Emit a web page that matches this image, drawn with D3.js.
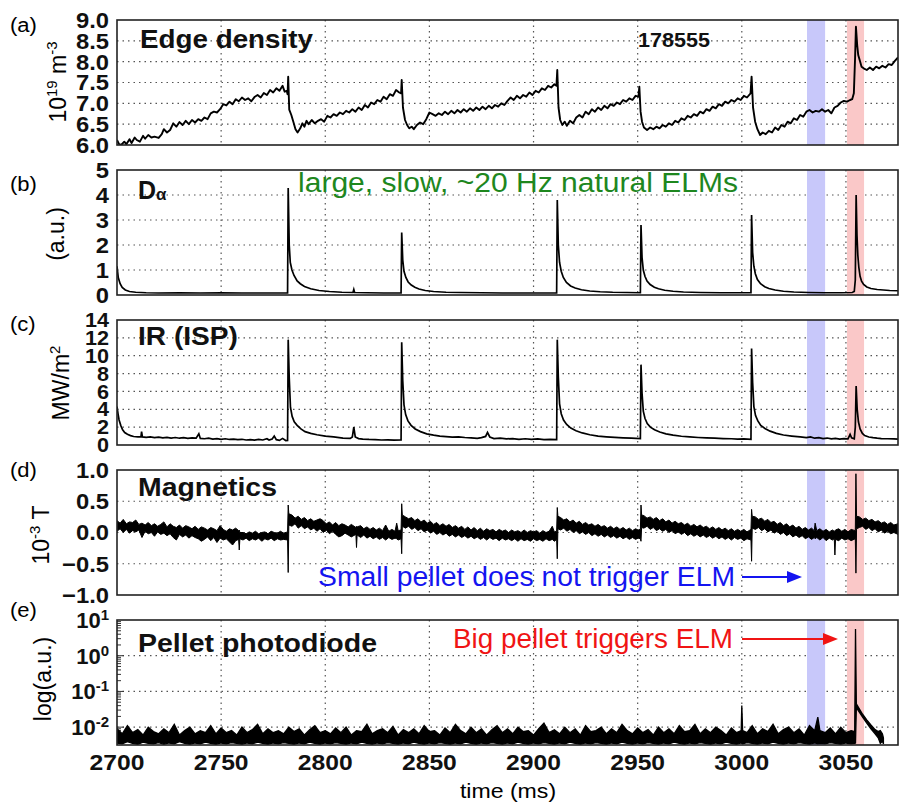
<!DOCTYPE html>
<html>
<head>
<meta charset="utf-8">
<script src="https://cdn.jsdelivr.net/npm/d3@7"></script>
<style>
  body { margin: 0; background: white; }
  svg { display: block; font-family: 'Liberation Sans', Arial, Helvetica, sans-serif; }
</style>
</head>
<body>
<div id="chart"></div>
<script>
// ---- data (time in ms) ----
const timeDomain = [2700, 3075];
const timeTicks = [2700, 2750, 2800, 2850, 2900, 2950, 3000, 3050];
const densityTicks = [6.0, 6.5, 7.0, 7.5, 8.0, 8.5, 9.0];
const dalphaTicks = [0, 1, 2, 3, 4, 5];
const irTicks = [0, 2, 4, 6, 8, 10, 12, 14];
const magTicks = [-1.0, -0.5, 0.0, 0.5, 1.0];
const photoTicks = [0.01, 0.1, 1, 10];
const smallPellet = [3031.3, 3040.0];
const bigPellet = [3050.5, 3058.7];

// edge density, 1e19 m^-3
const density = [
  [2700,6.12],[2701,6.02],[2702,6.0],[2703.5,6.08],[2704.5,6.02],[2706,6.14],[2707,6.05],[2708.5,6.18],[2709.5,6.12],[2711,6.08],
  [2712.5,6.22],[2713.5,6.15],[2715,6.24],[2716.5,6.18],[2718,6.2],[2720,6.17],[2721.5,6.26],[2722.5,6.38],[2724,6.3],[2725.5,6.36],
  [2727,6.52],[2728.5,6.44],[2730,6.55],[2731.5,6.48],[2733,6.58],[2734.5,6.5],[2736,6.6],[2737.5,6.54],[2739,6.62],[2740.5,6.58],
  [2742,6.66],[2743.5,6.62],[2745,6.76],[2746.5,6.8],[2748,6.78],[2749.5,6.86],[2751,6.98],[2752.5,6.95],[2754,7.04],[2755.5,6.98],
  [2757,7.1],[2758.5,7.05],[2760,7.14],[2761.5,7.08],[2763,7.12],[2764.5,7.05],[2766,7.15],[2767.5,7.2],[2769,7.14],[2770.5,7.25],
  [2772,7.2],[2773.5,7.32],[2775,7.26],[2776.5,7.36],[2778,7.3],[2779.5,7.42],[2780.5,7.28],[2781.5,7.3],[2781.9,7.22],
  [2782.2,7.64],[2782.7,6.85],[2783.7,6.72],[2784.7,6.55],[2785.7,6.38],[2786.7,6.3],[2788,6.4],[2789,6.52],[2790,6.44],[2791,6.58],
  [2792,6.5],[2793.5,6.6],[2795,6.52],[2796.5,6.58],[2798,6.62],[2799.5,6.56],[2801,6.7],[2802.5,6.66],[2804,6.74],[2805.5,6.7],
  [2807,6.78],[2808.5,6.74],[2810,6.82],[2811.5,6.78],[2813,6.86],[2814.5,6.8],[2816,6.9],[2817.5,6.84],[2819,6.96],[2820.5,6.9],
  [2822,7.02],[2823.5,6.98],[2825,7.08],[2826.5,7.04],[2828,7.16],[2829.5,7.1],[2831,7.22],[2832.5,7.18],[2834,7.32],[2835.5,7.26],[2836.4,7.24],
  [2836.7,7.56],[2837.3,6.9],[2838.3,6.6],[2839.3,6.48],[2840.3,6.4],[2841.5,6.44],[2842.5,6.38],[2844,6.48],[2845.5,6.54],[2847,6.5],
  [2848.5,6.62],[2850,6.78],[2851.5,6.74],[2853,6.7],[2854.5,6.76],[2856,6.72],[2857.5,6.8],[2859,6.74],[2860.5,6.82],[2862,6.76],
  [2863.5,6.84],[2865,6.78],[2866.5,6.86],[2868,6.8],[2869.5,6.88],[2871,6.82],[2872.5,6.9],[2874,6.84],[2875.5,6.92],[2877,6.86],
  [2878.5,6.94],[2880,6.88],[2881.5,6.96],[2883,6.92],[2884.5,7.0],[2886,6.96],[2887.5,7.06],[2889,7.14],[2890.5,7.08],[2892,7.18],
  [2893.5,7.12],[2895,7.2],[2896.5,7.16],[2898,7.26],[2899.5,7.2],[2901,7.3],[2902.5,7.26],[2904,7.36],[2905.5,7.32],[2907,7.42],
  [2908.5,7.38],[2910,7.46],[2911,7.42],
  [2911.4,7.8],[2912,6.9],[2912.8,6.6],[2913.8,6.48],[2915,6.56],[2916,6.46],[2917.5,6.58],[2919,6.52],[2920.5,6.66],[2922,6.72],
  [2923.5,6.66],[2925,6.8],[2926.5,6.74],[2928,6.86],[2929.5,6.8],[2931,6.9],[2932.5,6.84],[2934,6.94],[2935.5,6.88],[2937,6.98],
  [2938.5,6.94],[2940,7.02],[2941.5,6.98],[2943,7.08],[2944.5,7.04],[2946,7.12],[2947.5,7.08],[2949,7.18],[2950.4,7.16],
  [2950.8,7.4],[2951.4,6.8],[2952.1,6.56],[2953,6.42],[2954.5,6.36],[2956,6.42],[2957.5,6.38],[2959,6.44],[2960.5,6.4],[2962,6.48],
  [2963.5,6.44],[2965,6.52],[2966.5,6.48],[2968,6.58],[2969.5,6.54],[2971,6.64],[2972.5,6.6],[2974,6.7],[2975.5,6.66],[2977,6.74],
  [2978.5,6.7],[2980,6.8],[2981.5,6.76],[2983,6.86],[2984.5,6.82],[2986,6.92],[2987.5,6.88],[2989,6.98],[2990.5,6.94],[2992,7.04],
  [2993.5,7.0],[2995,7.08],[2996.5,7.04],[2998,7.12],[2999.5,7.08],[3001,7.18],[3002.5,7.14],[3004.2,7.24],
  [3004.7,7.64],[3005.4,6.9],[3006.4,6.56],[3007.5,6.38],[3008.8,6.24],[3010,6.3],[3011.5,6.26],[3013,6.34],[3014.5,6.3],[3016,6.42],
  [3017.5,6.36],[3019,6.48],[3020.5,6.44],[3022,6.56],[3023.5,6.52],[3025,6.64],[3026.5,6.6],[3028,6.72],[3029.5,6.68],[3031,6.8],
  [3032.5,6.84],[3034,6.78],[3035.5,6.82],[3037,6.8],[3038.5,6.86],[3040,6.8],[3041.5,6.84],[3043,6.76],[3044.5,6.9],[3046,6.94],
  [3047.5,7.02],[3049,7.06],[3050.5,7.04],[3052,7.08],[3053,7.1],[3053.8,7.24],[3054.4,8.1],[3054.8,8.84],[3055.4,8.4],[3055.9,8.16],
  [3056.7,8.02],[3057.5,7.88],[3058.5,7.84],[3060,7.8],[3061.5,7.86],[3063,7.8],[3064.5,7.88],[3066,7.84],[3067.5,7.9],[3069,7.86],
  [3070.5,7.94],[3072,7.92],[3073.5,8.02],[3075,8.1]
];

// D-alpha, a.u.
const dalpha = [
  [2700,1.15],[2700.6,0.7],[2701.5,0.45],[2702.5,0.3],[2704,0.2],[2706,0.14],[2709,0.11],[2714,0.09],[2720,0.08],[2730,0.09],
  [2740,0.08],[2750,0.09],[2760,0.08],[2770,0.08],[2781.9,0.08],
  [2782.2,4.28],[2782.7,2.0],[2783.2,1.3],[2784,1.0],[2785,0.78],[2786.5,0.56],[2788,0.45],[2790,0.34],[2793,0.25],[2797,0.18],
  [2802,0.14],[2808,0.11],[2813.3,0.1],[2813.7,0.22],[2814.1,0.1],[2820,0.09],[2828,0.08],[2836.4,0.08],
  [2836.7,2.5],[2837.2,1.4],[2837.8,0.95],[2838.7,0.7],[2839.8,0.52],[2841.3,0.4],[2843,0.31],[2845,0.24],[2848,0.18],[2852,0.14],
  [2858,0.11],[2865,0.1],[2875,0.09],[2885,0.08],[2895,0.08],[2905,0.08],[2911.1,0.08],
  [2911.4,3.8],[2911.9,2.0],[2912.5,1.3],[2913.3,0.95],[2914.3,0.7],[2915.8,0.5],[2917.8,0.36],[2920,0.28],[2923,0.21],[2927,0.16],
  [2932,0.13],[2938,0.11],[2945,0.1],[2951.3,0.09],
  [2951.6,2.8],[2952.1,1.5],[2952.7,1.0],[2953.5,0.75],[2954.5,0.56],[2956,0.42],[2958,0.31],[2960,0.25],[2963,0.19],[2967,0.15],
  [2972,0.12],[2980,0.1],[2990,0.09],[3000,0.09],[3004.4,0.09],
  [3004.7,3.2],[3005.2,1.7],[3005.8,1.15],[3006.5,0.85],[3007.5,0.62],[3009,0.45],[3011,0.33],[3013,0.26],[3016,0.2],[3020,0.15],
  [3025,0.12],[3032,0.1],[3040,0.09],[3048,0.09],[3053,0.1],[3054,0.14],[3054.5,0.6],
  [3054.9,4.0],[3055.3,2.4],[3055.7,1.6],[3056.2,1.1],[3056.8,0.75],[3057.5,0.55],[3058.5,0.42],[3060,0.32],[3062,0.26],[3065,0.22],
  [3068,0.2],[3071,0.18],[3075,0.17]
];

// IR heat flux at inner strike point, MW/m^2
const irFlux = [
  [2700,4.3],[2700.5,3.5],[2701,2.8],[2701.8,2.2],[2702.7,1.7],[2703.7,1.4],[2705,1.2],[2706.5,1.05],[2708,0.95],[2710,0.9],
  [2711.5,0.92],[2711.8,1.5],[2712.2,0.9],[2714,0.85],[2716,0.9],[2718,0.82],[2720,0.88],[2722,0.8],[2724,0.86],[2726,0.78],
  [2728,0.84],[2730,0.76],[2732,0.82],[2734,0.74],[2736,0.8],[2738,0.76],[2739.3,1.25],[2740,0.74],[2742,0.7],[2744,0.76],
  [2746,0.66],[2748,0.72],[2750,0.64],[2752,0.7],[2754,0.62],[2756,0.66],[2758,0.6],[2760,0.64],[2762,0.56],[2764,0.6],
  [2766,0.54],[2768,0.62],[2770,0.56],[2772,0.7],[2773,0.55],[2774.5,0.68],[2775.5,1.0],[2776.5,0.6],[2778,0.52],[2779.5,0.74],
  [2781,0.5],[2781.9,0.52],
  [2782.2,11.8],[2782.7,7.5],[2783.3,4.2],[2784.1,3.2],[2785.1,2.6],[2786.5,2.2],[2788.3,1.8],[2790.3,1.5],[2793,1.3],[2796,1.15],
  [2800,1.0],[2804,0.9],[2808.5,0.78],[2812,0.74],[2813,0.9],[2813.7,2.0],[2814.4,0.9],[2816,0.72],[2818,0.66],[2821,0.62],
  [2824,0.6],[2827,0.56],[2830,0.58],[2833,0.55],[2836.4,0.56],
  [2836.7,11.5],[2837.2,7.2],[2837.8,4.5],[2838.6,3.4],[2839.7,2.7],[2841.2,2.2],[2843.2,1.8],[2845.7,1.5],[2848.7,1.25],[2852,1.1],
  [2855,1.0],[2858,0.94],[2861,0.88],[2864,0.92],[2867,0.84],[2870,0.8],[2873,0.74],[2875,0.82],[2877,0.96],[2877.9,1.4],
  [2879,0.9],[2881,0.72],[2884,0.76],[2887,0.68],[2890,0.72],[2893,0.64],[2896,0.7],[2899,0.62],[2902,0.68],[2905,0.6],
  [2908,0.64],[2911.1,0.6],
  [2911.4,11.8],[2911.9,7.6],[2912.5,4.6],[2913.3,3.5],[2914.4,2.8],[2915.9,2.3],[2917.9,1.9],[2920.4,1.6],[2923.4,1.35],[2927,1.15],
  [2931,1.0],[2935,0.92],[2939,0.85],[2943,0.8],[2947,0.76],[2951.3,0.72],
  [2951.6,9.0],[2952.1,5.8],[2952.7,3.8],[2953.5,3.0],[2954.6,2.4],[2956.1,2.0],[2958.1,1.7],[2960.6,1.45],[2963.6,1.25],[2967,1.1],
  [2971,0.98],[2975,0.9],[2979,0.84],[2983,0.8],[2987,0.76],[2991,0.72],[2995,0.7],[2998,0.66],[3001,0.68],[3004.4,0.64],
  [3004.7,10.8],[3005.2,7.0],[3005.8,4.3],[3006.6,3.3],[3007.7,2.7],[3009.1,2.2],[3011.1,1.85],[3013.6,1.55],[3016.6,1.3],[3020,1.12],
  [3024,1.0],[3028,0.9],[3031,0.82],[3033,0.9],[3035,0.76],[3037,0.82],[3039,0.72],[3041,0.78],[3043,0.68],[3045,0.74],
  [3047,0.66],[3049,0.72],[3051,0.68],[3052,1.2],[3052.7,0.8],[3054,0.7],[3054.5,2.0],
  [3054.9,6.6],[3055.4,4.0],[3056,2.6],[3056.8,1.8],[3057.9,1.3],[3059,1.05],[3061,0.9],[3063,0.82],[3065,0.76],[3067,0.72],
  [3070,0.7],[3073,0.68],[3075,0.66]
];

// magnetics, 1e-3 T: [time, low envelope, high envelope]
const magnetics = [
  [2700,0.02,0.19],[2701.5,0.06,0.15],[2703,0.0,0.21],[2704.5,0.05,0.14],[2706,-0.01,0.17],[2707.5,0.03,0.16],[2709,0.01,0.2],
  [2710.5,0.04,0.13],[2712,-0.08,0.15],[2713.5,0.02,0.12],[2715,-0.02,0.16],[2716.5,0.0,0.11],[2718,-0.06,0.14],[2719.5,0.01,0.1],
  [2721,-0.03,0.13],[2722.5,-0.01,0.17],[2724,-0.05,0.09],[2725.5,-0.02,0.14],[2727,-0.08,0.1],[2728.5,-0.12,0.08],[2730,-0.03,0.12],
  [2731.5,-0.07,0.07],[2733,-0.04,0.11],[2734.5,-0.09,0.09],[2736,-0.05,0.06],[2737.5,-0.08,0.1],[2739,-0.1,0.05],[2740.5,-0.14,0.09],
  [2742,-0.11,0.07],[2743.5,-0.07,0.04],[2745,-0.13,0.08],[2746.5,-0.08,0.06],[2748,-0.16,0.03],[2749.5,-0.09,0.11],[2751,-0.12,0.05],
  [2752.5,-0.1,0.02],[2754,-0.15,0.06],[2755.5,-0.2,0.04],[2757,-0.13,0.07],[2758.4,-0.11,0.03],[2758.7,-0.28,0.04],[2759,-0.1,0.0],
  [2760.5,-0.12,0.0],[2762,-0.09,-0.02],[2763.5,-0.13,0.01],[2765,-0.1,-0.01],[2766.5,-0.12,0.02],[2768,-0.09,-0.02],[2769.5,-0.14,0.0],
  [2771,-0.1,0.01],[2772.5,-0.12,-0.02],[2774,-0.09,0.02],[2775.5,-0.13,0.0],[2777,-0.1,-0.01],[2778.5,-0.12,0.02],[2780,-0.11,-0.01],
  [2781.9,-0.12,0.01],
  [2782.2,-0.64,0.44],[2782.5,0.12,0.3],
  [2784,0.1,0.28],[2785.5,0.14,0.23],[2787,0.07,0.26],[2788.5,0.11,0.21],[2790,0.06,0.24],[2791.5,0.09,0.19],[2793,0.04,0.22],
  [2794.5,0.07,0.18],[2796,0.02,0.2],[2797.5,0.06,0.22],[2799,0.0,0.19],[2800.5,0.04,0.14],[2802,-0.02,0.17],[2803.5,0.02,0.12],
  [2805,-0.03,0.16],[2806.5,-0.07,0.11],[2808,-0.05,0.14],[2809.5,-0.01,0.12],[2811,-0.04,0.09],[2812.5,-0.07,0.13],[2814.7,-0.03,0.08],
  [2815,-0.24,0.1],[2815.3,-0.04,0.09],[2817,-0.08,0.11],[2818.5,-0.04,0.06],[2820,-0.09,0.09],[2821.5,-0.06,0.05],[2823,-0.1,0.08],
  [2824.5,-0.07,0.04],[2826,-0.11,0.07],[2827.5,-0.08,0.03],[2829,-0.12,0.12],[2830.5,-0.08,0.02],[2832,-0.11,0.05],[2833.5,-0.09,0.02],
  [2834.3,-0.1,0.15],[2835,-0.12,0.03],[2836.4,-0.1,0.04],
  [2836.7,-0.34,0.46],[2837,0.1,0.28],
  [2838.5,0.07,0.25],[2840,0.1,0.22],[2841.5,0.05,0.24],[2843,0.08,0.19],[2844.5,0.03,0.22],[2846,0.06,0.17],[2847.5,0.01,0.2],
  [2849,0.04,0.15],[2850.5,-0.01,0.18],[2852,0.02,0.13],[2853.5,-0.03,0.16],[2855,0.0,0.11],[2856.5,-0.04,0.14],[2858,-0.01,0.1],
  [2859.5,-0.06,0.13],[2861,-0.03,0.08],[2862.5,-0.07,0.11],[2864,-0.04,0.07],[2865.5,-0.08,0.1],[2867,-0.05,0.05],[2868.5,-0.09,0.09],
  [2870,-0.06,0.04],[2871.5,-0.1,0.08],[2873,-0.07,0.03],[2874.5,-0.11,0.07],[2876,-0.08,0.02],[2877.5,-0.12,0.06],[2879,-0.08,0.03],
  [2880.5,-0.11,0.05],[2882,-0.09,0.01],[2883.5,-0.13,0.05],[2885,-0.09,0.02],[2886.5,-0.12,0.04],[2888,-0.1,0.0],[2889.5,-0.13,0.04],
  [2891,-0.1,0.01],[2892.5,-0.14,0.03],[2894,-0.1,0.0],[2895.5,-0.13,0.04],[2897,-0.11,0.0],[2898.5,-0.14,0.03],[2900,-0.1,0.01],
  [2901.5,-0.13,0.03],[2903,-0.11,-0.01],[2904.5,-0.14,0.03],[2906,-0.1,0.0],[2907.5,-0.13,0.02],[2909,-0.11,0.1],[2910,-0.14,0.01],
  [2911.1,-0.11,0.02],
  [2911.4,-0.42,0.4],[2911.7,0.06,0.26],
  [2913,0.04,0.24],[2914.5,0.07,0.2],[2916,0.02,0.22],[2917.5,0.05,0.17],[2919,0.0,0.2],[2920.5,0.03,0.15],[2922,-0.02,0.18],
  [2923.5,0.01,0.13],[2925,-0.03,0.16],[2926.5,0.0,0.12],[2928,-0.05,0.14],[2929.5,-0.02,0.1],[2931,-0.06,0.13],[2932.5,-0.03,0.09],
  [2934,-0.07,0.11],[2935.5,-0.04,0.07],[2937,-0.08,0.1],[2938.5,-0.05,0.06],[2940,-0.09,0.09],[2941.5,-0.06,0.05],[2943,-0.1,0.08],
  [2944.5,-0.07,0.04],[2946,-0.11,0.07],[2947.5,-0.08,0.03],[2949,-0.11,0.06],[2950.2,-0.09,0.04],[2951.3,-0.1,0.05],
  [2951.6,-0.14,0.44],[2951.9,0.08,0.28],
  [2953,0.07,0.27],[2954.5,0.1,0.23],[2956,0.05,0.25],[2957.5,0.08,0.21],[2959,0.03,0.24],[2960.5,0.06,0.19],[2962,0.02,0.22],
  [2963.5,0.05,0.17],[2965,0.0,0.2],[2966.5,0.03,0.15],[2968,-0.02,0.18],[2969.5,0.01,0.14],[2971,-0.03,0.16],[2972.5,0.0,0.12],
  [2974,-0.05,0.15],[2975.5,-0.02,0.1],[2977,-0.06,0.13],[2978.5,-0.03,0.09],[2980,-0.07,0.12],[2981.5,-0.04,0.08],[2983,-0.08,0.1],
  [2984.5,-0.05,0.06],[2986,-0.09,0.09],[2987.5,-0.06,0.05],[2989,-0.1,0.08],[2990.5,-0.07,0.04],[2992,-0.11,0.07],[2993.5,-0.08,0.03],
  [2995,-0.12,0.06],[2996.5,-0.08,0.02],[2998,-0.11,0.05],[2999.5,-0.09,0.02],[3001,-0.13,0.05],[3002.5,-0.1,0.01],[3004.4,-0.12,0.05],
  [3004.7,-0.46,0.37],[3005,0.07,0.26],
  [3006.5,0.05,0.25],[3008,0.08,0.21],[3009.5,0.03,0.23],[3011,0.06,0.18],[3012.5,0.01,0.21],[3014,0.04,0.16],[3015.5,-0.01,0.18],
  [3017,0.02,0.13],[3018.5,-0.03,0.16],[3020,0.0,0.11],[3021.5,-0.05,0.14],[3023,-0.02,0.09],[3024.5,-0.07,0.12],[3026,-0.04,0.07],
  [3027.5,-0.08,0.1],[3029,-0.05,0.05],[3030.5,-0.1,0.08],[3032,-0.07,0.04],[3033.5,-0.11,0.07],[3034.8,-0.08,0.03],[3035.2,-0.1,0.15],
  [3036,-0.08,0.03],[3037.5,-0.12,0.06],[3039,-0.08,0.02],[3040.5,-0.13,0.05],[3042,-0.09,0.01],[3043.5,-0.12,0.04],[3044.4,-0.1,0.02],
  [3044.7,-0.36,0.03],[3045,-0.11,0.04],[3046.5,-0.13,0.06],[3048,-0.09,0.02],[3049.5,-0.12,0.05],[3051,-0.1,0.01],[3052.5,-0.13,0.05],
  [3054.5,-0.1,0.03],
  [3054.8,-0.65,0.94],[3055.1,0.06,0.26],
  [3056.5,0.08,0.25],[3058,0.1,0.21],[3059.5,0.05,0.23],[3061,0.08,0.19],[3062.5,0.03,0.21],[3064,0.06,0.17],[3065.5,0.01,0.19],
  [3067,0.04,0.15],[3068.5,-0.01,0.17],[3070,0.02,0.13],[3071.5,-0.02,0.16],[3073,0.0,0.12],[3075,-0.03,0.14]
];

// pellet photodiode: [time, low, high], values in 1e-3 a.u.
const photodiode = [
  [2700,3.6,9],[2702.5,3.4,6.5],[2705,3.9,11],[2707.5,3.5,7],[2710,3.3,8.5],[2712.5,3.8,6],[2715,3.5,10],[2717.5,3.4,7.5],
  [2720,3.7,6.5],[2722.5,3.3,9],[2725,3.6,7],[2727.5,3.4,12],[2730,3.9,6],[2732.5,3.5,8],[2735,3.3,10],[2737.5,3.6,6.5],
  [2740,3.4,8],[2742.5,3.8,7],[2745,3.5,11],[2747.5,3.3,6.5],[2750,3.6,9.5],[2752.5,3.4,7],[2755,3.7,8],[2757.5,3.5,6],
  [2760,3.3,10],[2762.5,3.6,7],[2765,3.4,8.5],[2767.5,3.8,12],[2770,3.5,6.5],[2772.5,3.3,9],[2775,3.6,7],[2777.5,3.4,8],
  [2780,3.7,6.5],[2782.5,3.5,10],[2785,3.3,7.5],[2787.5,3.6,9],[2790,3.4,6],[2792.5,3.8,8.5],[2795,3.5,11],[2797.5,3.3,7],
  [2800,3.6,8],[2802.5,3.4,6.5],[2805,3.7,9.5],[2807.5,3.5,7],[2810,3.3,10],[2812.5,3.6,6],[2815,3.4,8],[2817.5,3.8,7.5],
  [2820,3.5,12],[2822.5,3.3,6.5],[2825,3.6,8],[2827.5,3.4,9],[2830,3.7,7],[2832.5,3.5,10.5],[2835,3.3,6],[2837.5,3.6,8.5],
  [2840,3.4,7],[2842.5,3.8,9],[2845,3.5,6.5],[2847.5,3.3,11],[2850,3.6,7.5],[2852.5,3.4,8],[2855,3.7,6],[2857.5,3.5,9.5],
  [2860,3.3,7],[2862.5,3.6,12],[2865,3.4,8],[2867.5,3.8,6.5],[2870,3.5,10],[2872.5,3.3,7],[2875,3.6,9],[2877.5,3.4,6],
  [2880,3.7,8.5],[2882.5,3.5,11],[2885,3.3,7],[2887.5,3.6,9],[2890,3.4,6.5],[2892.5,3.8,10],[2895,3.5,7.5],[2897.5,3.3,8],
  [2900,3.6,6],[2902.5,3.4,9],[2905,3.7,13],[2907.5,3.5,7],[2910,3.3,8.5],[2912.5,3.6,6.5],[2915,3.4,10],[2917.5,3.8,7],
  [2920,3.5,9],[2922.5,3.3,6],[2925,3.6,11],[2927.5,3.4,7.5],[2930,3.7,8],[2932.5,3.5,10],[2935,3.3,6.5],[2937.5,3.6,9],
  [2940,3.4,7],[2942.5,3.8,12],[2945,3.5,8],[2947.5,3.3,6.5],[2950,3.6,9.5],[2952.5,3.4,7],[2955,3.7,8.5],[2957.5,3.5,6],
  [2960,3.3,10],[2962.5,3.6,7],[2965,3.4,9],[2967.5,3.8,6.5],[2970,3.5,11],[2972.5,3.3,7.5],[2975,3.6,8],[2977.5,3.4,12],
  [2980,3.7,6.5],[2982.5,3.5,9],[2985,3.3,7],[2987.5,3.6,10],[2990,3.4,8],[2992.5,3.8,6],[2995,3.5,9.5],[2997.5,3.3,7],
  [2999.7,3.6,8],[3000,3.5,40],[3000.4,3.4,8],[3002.5,3.7,7],[3005,3.5,11],[3007.5,3.3,6.5],[3010,3.6,9],[3012.5,3.4,7.5],
  [3015,3.8,12],[3017.5,3.5,6.5],[3020,3.3,8.5],[3022.5,3.6,10],[3025,3.4,7],[3027.5,3.7,9],[3030,3.5,6],[3032.5,3.3,11],
  [3035,3.6,8],[3036.5,3.4,19],[3037.5,3.5,8],[3040,3.4,7],[3042.5,3.7,9.5],[3045,3.5,6.5],[3047.5,3.3,10],[3050,3.6,7],
  [3052.5,3.4,8],[3054.2,3.5,7.5],
  [3054.6,3.6,5600],[3055,35,45],[3056.5,26,32],[3058,19,23],[3060,13,16],[3062,9,11.5],[3064,6.5,8.5],[3065.5,5,7.5],
  [3066.5,3.5,8],[3067.5,4,6.5],[3068,3.4,5]
];

// ---- layout ----
const W = 899, H = 807;
const panelH = 125;
const left = 117, right = 898;

const svg = d3.select('#chart')
  .append('svg')
  .style('background-color', 'white')
  .attr('width', W)
  .attr('height', H);

const x = d3.scaleLinear().domain(timeDomain).range([left, right]);

const widen = (sel, k) => sel.each(function () {
  const len = this.getComputedTextLength();
  d3.select(this).attr('textLength', len * k).attr('lengthAdjust', 'spacingAndGlyphs');
});
const fitText = (sel, w) => sel.attr('textLength', w).attr('lengthAdjust', 'spacingAndGlyphs');

const fmt1 = d => (d < 0 ? '\u2212' : '') + Math.abs(d).toFixed(1);

const panels = [
  { id: 'a', top: 20, y: d3.scaleLinear().domain([6, 9]), ticks: densityTicks, fmt: fmt1, fs: 22 },
  { id: 'b', top: 170, y: d3.scaleLinear().domain([0, 5]), ticks: dalphaTicks, fmt: d => String(d), fs: 22 },
  { id: 'c', top: 320, y: d3.scaleLinear().domain([0, 14]), ticks: irTicks, fmt: d => String(d), fs: 20 },
  { id: 'd', top: 470, y: d3.scaleLinear().domain([-1, 1]), ticks: magTicks, fmt: fmt1, fs: 22 },
  { id: 'e', top: 620, y: d3.scaleLog().domain([Math.pow(10, -2.5), 10]), ticks: photoTicks, log: true, fs: 22 }
];

panels.forEach(p => {
  p.y.range([p.top + panelH, p.top]);
  const g = svg.append('g').attr('class', 'panel-' + p.id);

  g.append('clipPath').attr('id', 'clip-' + p.id)
    .append('rect')
    .attr('x', left).attr('y', p.top)
    .attr('width', right - left).attr('height', panelH);

  // dotted grid
  const [d0, d1] = p.y.domain();
  g.selectAll('.hgrid')
    .data(p.ticks.filter(t => t > d0 + 1e-9 && t < d1 - 1e-9))
    .enter()
    .append('line')
    .attr('x1', left).attr('x2', right)
    .attr('y1', d => p.y(d)).attr('y2', d => p.y(d))
    .style('stroke', '#555')
    .style('stroke-width', 1.2)
    .style('stroke-dasharray', '1.5,4');
  g.selectAll('.vgrid')
    .data(timeTicks.filter(t => t > timeDomain[0]))
    .enter()
    .append('line')
    .attr('x1', d => x(d)).attr('x2', d => x(d))
    .attr('y1', p.top).attr('y2', p.top + panelH)
    .style('stroke', '#555')
    .style('stroke-width', 1.2)
    .style('stroke-dasharray', '1.5,4');

  // pellet time windows
  g.append('rect')
    .attr('x', x(smallPellet[0])).attr('y', p.top)
    .attr('width', x(smallPellet[1]) - x(smallPellet[0])).attr('height', panelH)
    .style('fill', 'rgb(200,200,250)');
  g.append('rect')
    .attr('x', x(bigPellet[0])).attr('y', p.top)
    .attr('width', x(bigPellet[1]) - x(bigPellet[0])).attr('height', panelH)
    .style('fill', 'rgb(250,200,200)');

  // log minor ticks
  if (p.log) {
    const minor = [];
    [-3, -2, -1, 0].forEach(k => d3.range(1, 10).forEach(m => {
      const v = m * Math.pow(10, k);
      if (v > d0 && v < d1) minor.push({ v, major: m === 1 });
    }));
    g.selectAll('.minor')
      .data(minor)
      .enter()
      .append('line')
      .attr('x1', left).attr('x2', d => left + (d.major ? 7 : 4))
      .attr('y1', d => p.y(d.v)).attr('y2', d => p.y(d.v))
      .style('stroke', '#333')
      .style('stroke-width', 1);
  }

  p.g = g.append('g').attr('clip-path', 'url(#clip-' + p.id + ')');
  p.frame = g;
});

const lineOf = p => d3.line().x(d => x(d[0])).y(d => p.y(d[1]));

panels[0].g.append('path').datum(density)
  .attr('d', lineOf(panels[0]))
  .style('fill', 'none').style('stroke', 'black').style('stroke-width', 1.9).style('stroke-linejoin', 'round');
panels[1].g.append('path').datum(dalpha)
  .attr('d', lineOf(panels[1]))
  .style('fill', 'none').style('stroke', 'black').style('stroke-width', 1.7);
panels[2].g.append('path').datum(irFlux)
  .attr('d', lineOf(panels[2]))
  .style('fill', 'none').style('stroke', 'black').style('stroke-width', 1.7);

const mp = panels[3];
mp.g.append('path').datum(magnetics)
  .attr('d', d3.area().x(d => x(d[0])).y0(d => mp.y(d[1])).y1(d => mp.y(d[2])))
  .style('fill', 'black').style('stroke', 'black').style('stroke-width', 1);

const pp = panels[4];
pp.g.append('path').datum(photodiode)
  .attr('d', d3.area().x(d => x(d[0])).y0(d => pp.y(d[1] * 1e-3)).y1(d => pp.y(d[2] * 1e-3)))
  .style('fill', 'black').style('stroke', 'black').style('stroke-width', 1.3);

// frames and y tick labels
panels.forEach(p => {
  p.frame.append('rect')
    .attr('x', left).attr('y', p.top)
    .attr('width', right - left).attr('height', panelH)
    .style('fill', 'none').style('stroke', '#222').style('stroke-width', 1.6);

  const labels = p.frame.selectAll('.ytick')
    .data(p.ticks)
    .enter()
    .append('text')
    .attr('x', 109)
    .attr('y', d => p.y(d) + p.fs * 0.36)
    .attr('text-anchor', 'end')
    .style('font-weight', 'bold')
    .style('font-size', p.fs + 'px')
    .style('fill', '#111');
  if (p.log) {
    labels.append('tspan').text('10');
    labels.append('tspan')
      .attr('dy', -8)
      .style('font-size', '15px')
      .text(d => String(Math.round(Math.log10(d))));
  } else {
    labels.text(p.fmt);
    widen(labels, 1.08);
  }
});

// x axis
const xl = svg.selectAll('.xtick')
  .data(timeTicks)
  .enter()
  .append('text')
  .attr('x', d => x(d))
  .attr('y', 770)
  .attr('text-anchor', 'middle')
  .style('font-weight', 'bold')
  .style('font-size', '22px')
  .style('fill', '#111')
  .text(d => d);
widen(xl, 1.12);

widen(svg.append('text')
  .attr('x', 508).attr('y', 798)
  .attr('text-anchor', 'middle')
  .style('font-size', '21px')
  .text('time (ms)'), 1.1);

// panel letters
['(a)', '(b)', '(c)', '(d)', '(e)'].forEach((s, i) => {
  widen(svg.append('text')
    .attr('x', 10).attr('y', [32, 191, 331, 477, 617][i])
    .style('font-size', '20px')
    .text(s), 1.1);
});

// y axis titles (rotated)
const yTitle = (cx, cy) => svg.append('text')
  .attr('transform', `translate(${cx},${cy}) rotate(-90)`)
  .attr('text-anchor', 'middle')
  .style('font-size', '23px');

const ta = yTitle(66, 82);
ta.append('tspan').text('10');
ta.append('tspan').attr('dy', -9).style('font-size', '15px').text('19');
ta.append('tspan').attr('dy', 9).text(' m');
ta.append('tspan').attr('dy', -9).style('font-size', '15px').text('-3');

yTitle(64, 234).text('(a.u.)');

const tc = yTitle(69, 383);
tc.append('tspan').text('MW/m');
tc.append('tspan').attr('dy', -9).style('font-size', '15px').text('2');

const td = yTitle(49, 535);
td.append('tspan').text('10');
td.append('tspan').attr('dy', -9).style('font-size', '15px').text('-3');
td.append('tspan').attr('dy', 9).text(' T');

yTitle(51, 679).text('log(a.u.)');

// panel titles
const title = (tx, ty, s, w) => fitText(svg.append('text')
  .attr('x', tx).attr('y', ty)
  .style('font-weight', 'bold')
  .style('font-size', '25px')
  .style('fill', '#111')
  .text(s), w);

title(140, 48, 'Edge density', 173);
title(138, 345, 'IR (ISP)', 100);
title(138, 496, 'Magnetics', 139);
title(138, 652, 'Pellet photodiode', 239);

const da = svg.append('text')
  .attr('x', 138).attr('y', 199)
  .style('font-weight', 'bold')
  .style('font-size', '25px')
  .style('fill', '#111');
da.append('tspan').text('D');
da.append('tspan').attr('dy', 1).style('font-size', '17px').text('\u03b1');

fitText(svg.append('text')
  .attr('x', 638).attr('y', 47)
  .style('font-weight', 'bold')
  .style('font-size', '21px')
  .style('fill', '#111')
  .text('178555'), 72);

// annotations
fitText(svg.append('text')
  .attr('x', 298).attr('y', 192)
  .style('font-size', '27px')
  .style('fill', 'rgb(30,135,30)')
  .text('large, slow, ~20 Hz natural ELMs'), 440);

const arrow = (x1, x2, yy, color) => {
  svg.append('line')
    .attr('x1', x1).attr('x2', x2 - 12)
    .attr('y1', yy).attr('y2', yy)
    .style('stroke', color).style('stroke-width', 1.8);
  svg.append('path')
    .attr('d', `M${x2},${yy}L${x2 - 15},${yy - 6}L${x2 - 15},${yy + 6}Z`)
    .style('fill', color);
};

fitText(svg.append('text')
  .attr('x', 318).attr('y', 586)
  .style('font-size', '27px')
  .style('fill', 'rgb(20,20,240)')
  .text('Small pellet does not trigger ELM'), 417);
arrow(742, 802, 577, 'rgb(20,20,240)');

fitText(svg.append('text')
  .attr('x', 453).attr('y', 648)
  .style('font-size', '27px')
  .style('fill', 'rgb(240,20,20)')
  .text('Big pellet triggers ELM'), 280);
arrow(742, 838, 639, 'rgb(240,20,20)');
</script>
</body>
</html>
